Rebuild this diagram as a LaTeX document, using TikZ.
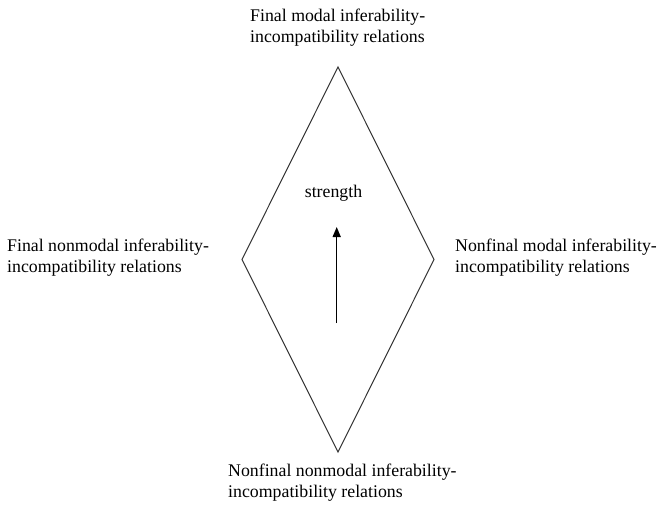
\documentclass[tikz,border=0pt]{standalone}
\usepackage{fontspec}
\setmainfont{Liberation Serif}
\usetikzlibrary{arrows.meta}
\begin{document}
\begin{tikzpicture}[x=1pt,y=-1pt,
  lbl/.style={align=left,anchor=west,inner sep=0pt,font=\fontsize{17.8}{21}\selectfont},
  edge/.style={draw=black!80,line width=1pt}]
\useasboundingbox (0,0) rectangle (658,505);
\coordinate (T) at (338,67);
\coordinate (B) at (338,452);
\coordinate (L) at (242,259.5);
\coordinate (R) at (434,259.5);
\draw[edge] (T) -- (R) -- (B) -- (L) -- cycle;
\node[lbl] (top) at (250,27.2) {Final modal inferability-\\incompatibility relations};
\node[lbl] (left) at (7,257.7) {Final nonmodal inferability-\\incompatibility relations};
\node[lbl] (right) at (455,257.7) {Nonfinal modal inferability-\\incompatibility relations};
\node[lbl] (bottom) at (228,483) {Nonfinal nonmodal inferability-\\incompatibility relations};
\node[inner sep=0pt,font=\fontsize{17.8}{21}\selectfont] (str) at (333.5,193) {strength};
\coordinate (a1) at (336.7,323);
\coordinate (a2) at (336.7,227);
\draw[line width=1.4pt,-{Triangle[length=10pt,width=8pt]}] (a1) -- (a2);
\end{tikzpicture}
\end{document}
